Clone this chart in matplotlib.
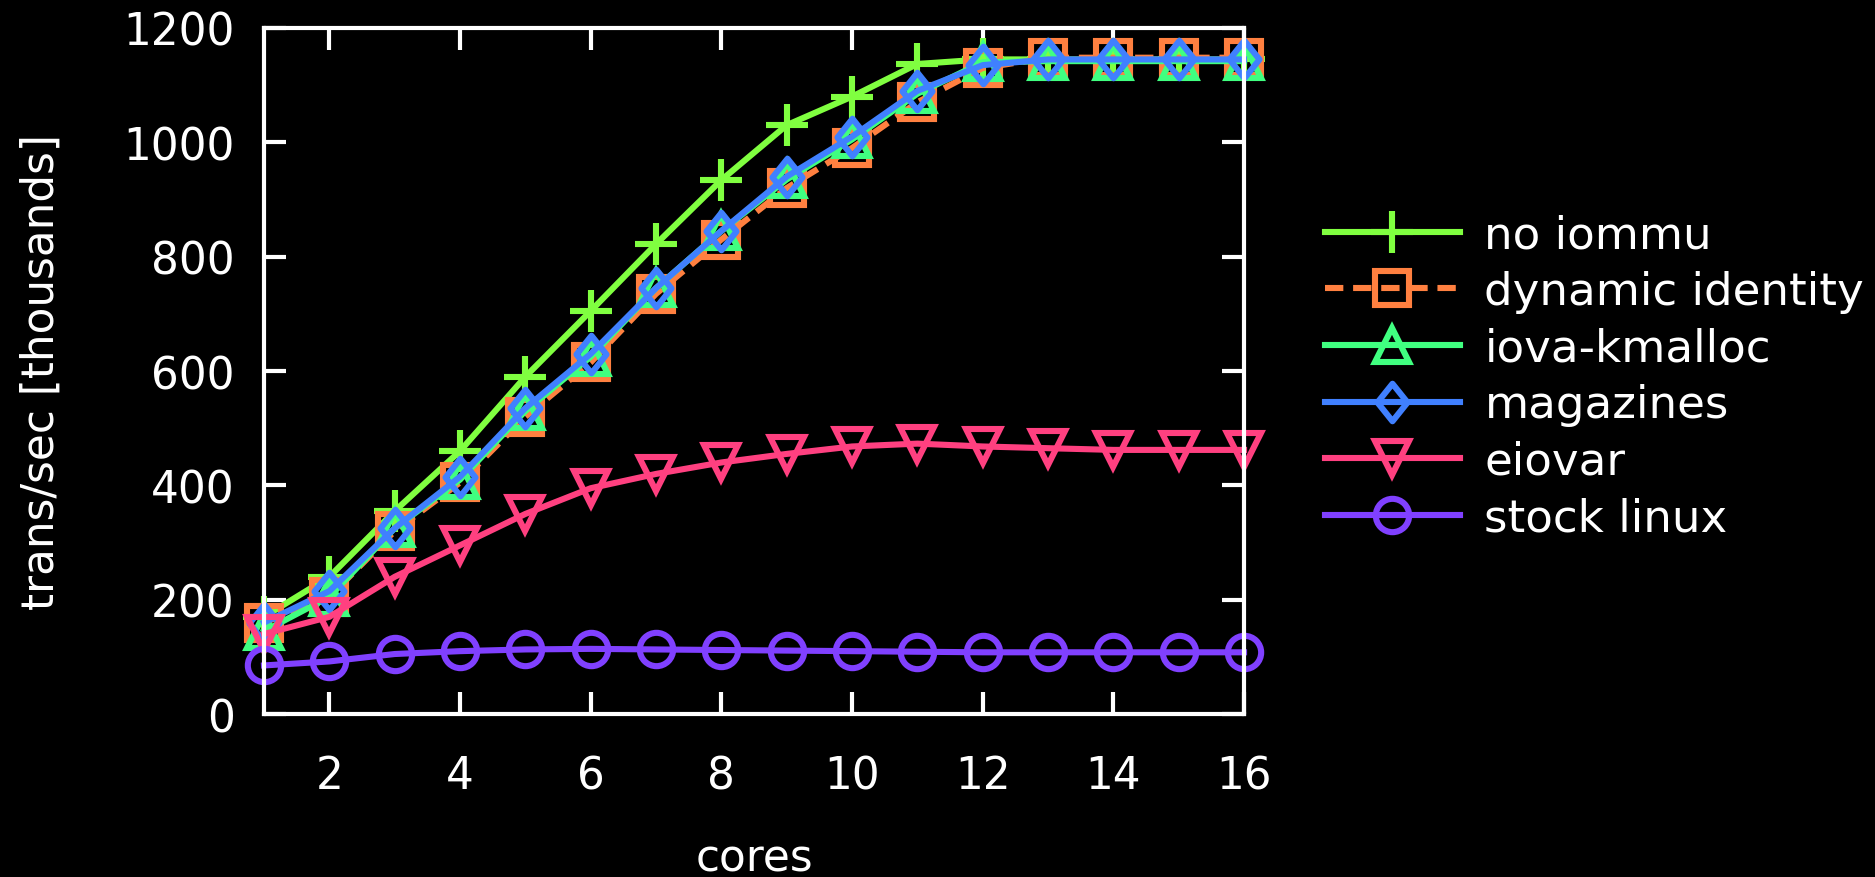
import matplotlib
matplotlib.use("Agg")
import matplotlib.pyplot as plt
from matplotlib.path import Path

cores = list(range(1, 17))
no_iommu = [170, 240, 355, 460, 590, 705, 822, 934, 1030, 1080, 1137, 1145, 1145, 1145, 1145, 1145]
dynamic_identity = [160, 205, 320, 405, 520, 615, 735, 830, 920, 990, 1070, 1130, 1148, 1148, 1148, 1148]
iova_kmalloc = [145, 205, 325, 410, 530, 625, 745, 845, 935, 1005, 1085, 1140, 1142, 1142, 1142, 1142]
magazines = [160, 215, 325, 415, 535, 630, 745, 845, 940, 1010, 1090, 1135, 1145, 1145, 1145, 1145]
eiovar = [140, 170, 240, 295, 350, 395, 420, 440, 455, 468, 473, 468, 465, 462, 462, 462]
stock_linux = [85, 92, 105, 110, 113, 114, 113, 112, 111, 110, 109, 108, 108, 108, 108, 108]

labels = ["no iommu", "dynamic identity", "iova-kmalloc", "magazines", "eiovar", "stock linux"]
colors = ["#80ff40", "#ff8040", "#40ff80", "#4080ff", "#ff4080", "#8040ff"]
xticks = [2, 4, 6, 8, 10, 12, 14, 16]
yticks = [0, 200, 400, 600, 800, 1000, 1200]

plt.rcParams['font.family'] = ['DejaVu Sans']
FS = 31.5
LFS = 32.5

diamond = Path([(0, 1), (0.8, 0), (0, -1), (-0.8, 0), (0, 1)],
               [Path.MOVETO, Path.LINETO, Path.LINETO, Path.LINETO, Path.CLOSEPOLY])

fig = plt.figure(figsize=(18.75, 8.78), dpi=100, facecolor="black")
ax = fig.add_axes([0.1408, 0.1856, 0.5227, 0.7814])
ax.set_facecolor("black")

series = [no_iommu, dynamic_identity, iova_kmalloc, magazines, eiovar, stock_linux]
markers = ["+", "s", "^", diamond, "v", "o"]
msizes = [30, 24, 25, 27, 25, 24]
styles = ["-", (0, (3.0, 1.6)), "-", "-", "-", "-"]
lw = 4.4
for vals, lab, c, m, ms, ls in zip(series, labels, colors, markers, msizes, styles):
    ax.plot(cores, vals, color=c, lw=lw, ls=ls, marker=m, ms=ms,
            mfc="none", mec=c, mew=lw, label=lab, clip_on=False,
            dash_capstyle="butt")

ax.set_xlim(1, 16)
ax.set_ylim(0, 1200)
ax.set_xticks(xticks)
ax.set_yticks(yticks)
for s in ax.spines.values():
    s.set_color("white")
    s.set_linewidth(3)
    s.set_zorder(5)
ax.tick_params(axis="both", which="major", direction="in", length=16, width=3,
               colors="white", labelsize=FS, top=True, right=True)
ax.tick_params(axis="y", pad=21)
ax.tick_params(axis="x", pad=29)
ax.set_xlabel("cores", color="white", fontsize=FS, labelpad=28)
ax.set_ylabel("trans/sec [thousands]", color="white", fontsize=FS, labelpad=44)

leg = fig.legend(loc="center left", bbox_to_anchor=(0.7067, 0.5700), frameon=False,
                 fontsize=LFS, handlelength=2.98, handletextpad=0.55, labelspacing=0.30,
                 borderpad=0, borderaxespad=0)
for t in leg.get_texts():
    t.set_color("white")

fig.savefig("out.png", dpi=100, facecolor="black")
